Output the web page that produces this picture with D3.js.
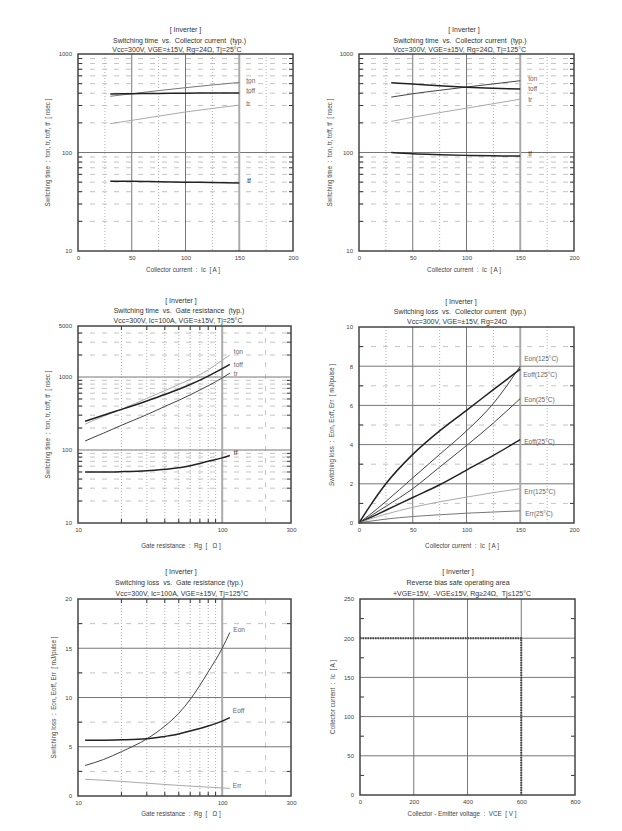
<!DOCTYPE html>
<html><head><meta charset="utf-8">
<script src="https://cdn.jsdelivr.net/npm/d3@7/dist/d3.min.js"></script>
<style>
body{margin:0;background:#fff}
svg{display:block}
text{font-family:"Liberation Sans",Arial,sans-serif;fill:#444;white-space:pre}
</style>
</head><body>
<svg id="c" width="622" height="831"></svg>
<script>
// ---------- DATA ----------
// Panel 1 / 2 : switching time vs collector current
const icT = [30, 50, 75, 100, 125, 150];
const ton25 = [372, 395, 425, 455, 485, 514];
const toff25 = [392, 395, 398, 400, 402, 403];
const tr25 = [196, 212, 234, 258, 280, 303];
const tf25 = [51, 51, 50.5, 50, 49.5, 49];
const ton125 = [365, 395, 428, 462, 497, 535];
const toff125 = [511, 495, 475, 460, 450, 440];
const tr125 = [207, 228, 254, 282, 313, 348];
const tf125 = [100, 97, 95, 93.5, 92.5, 92];
// Panel 3 : switching time vs gate resistance
const rgT = [11.2, 15, 20, 30, 40, 50, 60, 80, 100, 113];
const tonRg = [226, 290, 360, 510, 650, 790, 930, 1250, 1700, 2000];
const toffRg = [248, 300, 360, 470, 575, 680, 790, 1030, 1300, 1490];
const trRg = [133, 170, 218, 305, 395, 480, 570, 760, 970, 1130];
const tfRg = [50, 50, 50.5, 52, 54.5, 57, 61, 70, 78, 84];
// Panel 4 : switching loss vs collector current
const icE = [0, 10, 25, 50, 75, 100, 125, 150];
const eon125 = [0, 0.42, 1.1, 2.3, 3.5, 4.7, 6.1, 8.0];
const eoff125 = [0, 0.85, 2.0, 3.5, 4.7, 5.75, 6.8, 7.85];
const eon25 = [0, 0.33, 0.85, 1.75, 2.85, 3.95, 5.1, 6.35];
const eoff25 = [0, 0.26, 0.65, 1.3, 1.95, 2.7, 3.45, 4.25];
const err125 = [0, 0.2, 0.45, 0.8, 1.08, 1.32, 1.55, 1.75];
const err25 = [0, 0.09, 0.2, 0.33, 0.42, 0.5, 0.56, 0.62];
// Panel 5 : switching loss vs gate resistance
const rgE = [11.2, 15, 20, 30, 40, 50, 60, 80, 100, 113];
const eonRg = [3.1, 3.7, 4.5, 5.8, 7.1, 8.4, 9.8, 12.6, 15.0, 16.6];
const eoffRg = [5.67, 5.67, 5.7, 5.8, 6.05, 6.3, 6.6, 7.1, 7.6, 7.95];
const errRg = [1.7, 1.6, 1.48, 1.3, 1.17, 1.08, 1.0, 0.9, 0.82, 0.77];
// Panel 6 : RBSOA
const rbsoaV = [0, 600, 600];
const rbsoaI = [200, 200, 0];
// Tick labels
const ticksIc = [0, 50, 100, 150, 200];
const ticksTime = [10, 100, 1000];
const ticksTimeRg = [10, 100, 1000, 5000];
const ticksRg = [10, 100, 300];
const ticksLossIc = [0, 2, 4, 6, 8, 10];
const ticksLossRg = [0, 5, 10, 15, 20];
const ticksVce = [0, 200, 400, 600, 800];
const ticksIcR = [0, 50, 100, 150, 200, 250];

// ---------- DRAWING ----------
const svg = d3.select('#c');
const logMinor = (a, b) => { const r = []; for (let d = a; d < b; d *= 10) for (let k = 2; k <= 9; k++) if (k * d < b) r.push(k * d); return r; };

const STY = {
  thick: {c: '#222', w: 1.5},
  dark: {c: '#444', w: 1},
  mid: {c: '#777', w: 1},
  light: {c: '#aaa', w: 1}
};

function txt(g, x, y, s, size) {
  return g.append('text').attr('x', x).attr('y', y).attr('xml:space', 'preserve').attr('font-size', size).text(s);
}

function panel(cfg) {
  const g = svg.append('g');
  const [x0, x1] = cfg.px, [y0, y1] = cfg.py;
  const x = (cfg.xlog ? d3.scaleLog() : d3.scaleLinear()).domain(cfg.xd).range([x0, x1]);
  const y = (cfg.ylog ? d3.scaleLog() : d3.scaleLinear()).domain(cfg.yd).range([y1, y0]);
  const ln = (a, b, c, d, stroke, w, dash) => g.append('line').attr('x1', a).attr('y1', b).attr('x2', c).attr('y2', d)
    .attr('stroke', stroke).attr('stroke-width', w).attr('stroke-dasharray', dash || null);

  (cfg.yDash || []).forEach(v => ln(x0, y(v), x1, y(v), '#c4c4c4', 1, '5,7'));
  (cfg.xDot || []).forEach(v => ln(x(v), y0, x(v), y1, '#b0b0b0', 1, '1,2'));
  (cfg.xDash || []).forEach(v => ln(x(v), y0, x(v), y1, '#c4c4c4', 1, '5,7'));
  (cfg.yMajor || []).forEach(v => ln(x0, y(v), x1, y(v), '#777', 1));
  (cfg.xMajor || []).forEach(v => ln(x(v), y0, x(v), y1, '#777', 1));
  (cfg.xLight || []).forEach(v => ln(x(v), y0, x(v), y1, '#aaa', 2));
  (cfg.yTick || []).forEach(v => { ln(x0, y(v), x0 + 4, y(v), '#333', 1); ln(x1 - 4, y(v), x1, y(v), '#333', 1); });
  (cfg.xTick || []).forEach(v => { ln(x(v), y1, x(v), y1 - 4, '#333', 1); ln(x(v), y0, x(v), y0 + 4, '#333', 1); });

  // series
  cfg.series.forEach(s => {
    const pts = s.x.map((v, i) => [v, s.y[i]]);
    const st = STY[s.style];
    g.append('path').datum(pts)
      .attr('d', d3.line().x(d => x(d[0])).y(d => y(d[1])).curve(s.linear ? d3.curveLinear : d3.curveMonotoneX))
      .attr('fill', 'none').attr('stroke', st.c).attr('stroke-width', s.w || st.w)
      .attr('stroke-dasharray', s.dash || null);
    if (s.label) {
      const lx = x(s.x[s.x.length - 1]) + s.dx, ly = y(s.y[s.y.length - 1]) + s.dy;
      txt(g, lx, ly + 2.2, s.label, 6.5).style('fill', s.lc || '#666');
    }
  });

  // frame
  g.append('rect').attr('x', x0).attr('y', y0).attr('width', x1 - x0).attr('height', y1 - y0)
    .attr('fill', 'none').attr('stroke', '#444').attr('stroke-width', 1.5);

  // axes tick labels
  const fmt = d => String(d);
  const ax = g.append('g').attr('transform', `translate(0,${y1})`)
    .call(d3.axisBottom(x).tickValues(cfg.xt).tickFormat(fmt).tickSize(0).tickPadding(5));
  const ay = g.append('g').attr('transform', `translate(${x0},0)`)
    .call(d3.axisLeft(y).tickValues(cfg.yt).tickFormat(fmt).tickSize(0).tickPadding(6));
  [ax, ay].forEach(a => { a.select('.domain').remove(); a.selectAll('text').attr('font-size', 6).style('fill', '#444').attr('font-family', '"Liberation Sans",Arial,sans-serif'); });

  // titles
  cfg.title.forEach((t, i) => txt(g, cfg.tx[i], cfg.ty[i], t, 7).attr('text-anchor', 'middle').style('fill', '#333'));
  txt(g, cfg.xlx, cfg.xly, cfg.xlabel, 6.3).attr('text-anchor', 'middle');
  g.append('text').attr('xml:space', 'preserve').attr('transform', `translate(${cfg.ylx},${(y0 + y1) / 2}) rotate(-90)`).attr('text-anchor', 'middle')
    .attr('font-size', 6.3).text(cfg.ylabel);
}

const tSwI = ['[ Inverter ]', 'Switching time  vs.  Collector current  (typ.)'];
const yTime = 'Switching time  :  ton, tr, toff, tf  [ nsec ]';
const yLoss = 'Switching loss  :  Eon, Eoff, Err  [ mJ/pulse ]';
const xIc = 'Collector current  :  Ic  [ A ]';
const xRg = 'Gate resistance  :  Rg  [   Ω ]';

panel({
  px: [78, 293], py: [54, 251], xd: [0, 200], yd: [10, 1000], ylog: true,
  yDash: logMinor(10, 1000), yTick: logMinor(10, 1000), yMajor: [100],
  xDot: [25, 75, 125, 175], xMajor: [50, 100], xLight: [150],
  xt: ticksIc, yt: ticksTime,
  title: [...tSwI, 'Vcc=300V, VGE=±15V, Rg=24Ω, Tj=25°C'], tx: [185.5, 179.5, 177], ty: [31.5, 42.5, 52],
  xlabel: xIc, xlx: 183, xly: 272, ylabel: yTime, ylx: 50,
  series: [
    {x: icT, y: ton25, style: 'mid', label: 'ton', dx: 7, dy: -2},
    {x: icT, y: toff25, style: 'thick', label: 'toff', dx: 7, dy: -2.5},
    {x: icT, y: tr25, style: 'light', label: 'tr', dx: 7, dy: -1.5},
    {x: icT, y: tf25, style: 'thick', label: 'tf', dx: 8, dy: -2.5, lc: '#333'}
  ]
});

panel({
  px: [359, 574], py: [54, 251], xd: [0, 200], yd: [10, 1000], ylog: true,
  yDash: logMinor(10, 1000), yTick: logMinor(10, 1000), yMajor: [100],
  xDot: [25, 75, 125, 175], xMajor: [50, 100], xLight: [150],
  xt: ticksIc, yt: ticksTime,
  title: [...tSwI, 'Vcc=300V, VGE=±15V, Rg=24Ω, Tj=125°C'], tx: [464, 460, 459.5], ty: [31.5, 42.5, 52],
  xlabel: xIc, xlx: 464, xly: 272, ylabel: yTime, ylx: 332,
  series: [
    {x: icT, y: ton125, style: 'dark', label: 'ton', dx: 8, dy: -1.5},
    {x: icT, y: toff125, style: 'thick', label: 'toff', dx: 8, dy: 0},
    {x: icT, y: tr125, style: 'light', label: 'tr', dx: 8, dy: 0.5},
    {x: icT, y: tf125, style: 'thick', label: 'tf', dx: 8, dy: -2, lc: '#333'}
  ]
});

panel({
  px: [78, 291], py: [326, 523], xd: [10, 300], xlog: true, yd: [10, 5000], ylog: true,
  yDash: logMinor(10, 5000), yTick: logMinor(10, 5000), yMajor: [100, 1000],
  xDot: logMinor(10, 100), xDash: [200], xLight: [100], xTick: logMinor(10, 100),
  xt: ticksRg, yt: ticksTimeRg,
  title: ['[ Inverter ]', 'Switching time  vs.  Gate resistance  (typ.)', 'Vcc=300V, Ic=100A, VGE=±15V, Tj=25°C'], tx: [181, 179, 178], ty: [302.5, 312.5, 323],
  xlabel: xRg, xlx: 181, xly: 548, ylabel: yTime, ylx: 50,
  series: [
    {x: rgT, y: tonRg, style: 'light', label: 'ton', dx: 4, dy: -3},
    {x: rgT, y: toffRg, style: 'thick', label: 'toff', dx: 4, dy: 0},
    {x: rgT, y: trRg, style: 'dark', label: 'tr', dx: 4, dy: 1},
    {x: rgT, y: tfRg, style: 'thick', label: 'tf', dx: 4, dy: -2.5, lc: '#333'}
  ]
});

panel({
  px: [359, 574], py: [327, 523], xd: [0, 200], yd: [0, 10],
  yDash: [1, 3, 5, 7, 9], yTick: [1, 3, 5, 7, 9], yMajor: [2, 4, 6, 8],
  xDot: [25, 75, 125, 175], xMajor: [50, 100], xLight: [150],
  xt: ticksIc, yt: ticksLossIc,
  title: ['[ Inverter ]', 'Switching loss  vs.  Collector current  (typ.)', 'Vcc=300V, VGE=±15V, Rg=24Ω'], tx: [461, 460, 457], ty: [303.5, 313.5, 323.5],
  xlabel: xIc, xlx: 462, xly: 548, ylabel: yLoss, ylx: 334,
  series: [
    {x: icE, y: eon125, style: 'dark', label: 'Eon(125°C)', dx: 4, dy: -7},
    {x: icE, y: eoff125, style: 'thick', label: 'Eoff(125°C)', dx: 3, dy: 5.5},
    {x: icE, y: eon25, style: 'dark', label: 'Eon(25°C)', dx: 4, dy: 1},
    {x: icE, y: eoff25, style: 'thick', label: 'Eoff(25°C)', dx: 4, dy: 2},
    {x: icE, y: err125, style: 'light', label: 'Err(125°C)', dx: 4, dy: 3},
    {x: icE, y: err25, style: 'mid', label: 'Err(25°C)', dx: 5, dy: 3}
  ]
});

panel({
  px: [78, 291], py: [599, 796], xd: [10, 300], xlog: true, yd: [0, 20],
  yDash: [2.5, 7.5, 12.5, 17.5], yTick: [2.5, 7.5, 12.5, 17.5], yMajor: [5, 10, 15],
  xDot: logMinor(10, 100), xDash: [200], xLight: [100], xTick: logMinor(10, 100),
  xt: ticksRg, yt: ticksLossRg,
  title: ['[ Inverter ]', 'Switching loss  vs.  Gate resistance (typ.)', 'Vcc=300V, Ic=100A, VGE=±15V, Tj=125°C'], tx: [181, 179, 182], ty: [573.5, 584.5, 595.5],
  xlabel: xRg, xlx: 181, xly: 816, ylabel: yLoss, ylx: 56,
  series: [
    {x: rgE, y: eonRg, style: 'dark', label: 'Eon', dx: 3.5, dy: -3},
    {x: rgE, y: eoffRg, style: 'thick', label: 'Eoff', dx: 3, dy: -7},
    {x: rgE, y: errRg, style: 'light', label: 'Err', dx: 3, dy: -3}
  ]
});

panel({
  px: [360, 575], py: [599, 795], xd: [0, 800], yd: [0, 250],
  yMajor: [50, 100, 150, 200], yTick: [25, 75, 125, 175, 225],
  xMajor: [200, 400, 600],
  xt: ticksVce, yt: ticksIcR,
  title: ['[ Inverter ]', 'Reverse bias safe operating area', '+VGE=15V,  -VGE≤15V, Rg≥24Ω,  Tj≤125°C'], tx: [458, 458, 462], ty: [573.5, 584.5, 595.5],
  xlabel: 'Collector - Emitter voltage  :  VCE  [ V ]', xlx: 462, xly: 816, ylabel: 'Collector current  :  Ic  [ A ]', ylx: 335,
  series: [
    {x: rbsoaV, y: rbsoaI, style: 'dark', linear: true, w: 2, dash: '1.5,1'}
  ]
});
</script>
</body></html>
